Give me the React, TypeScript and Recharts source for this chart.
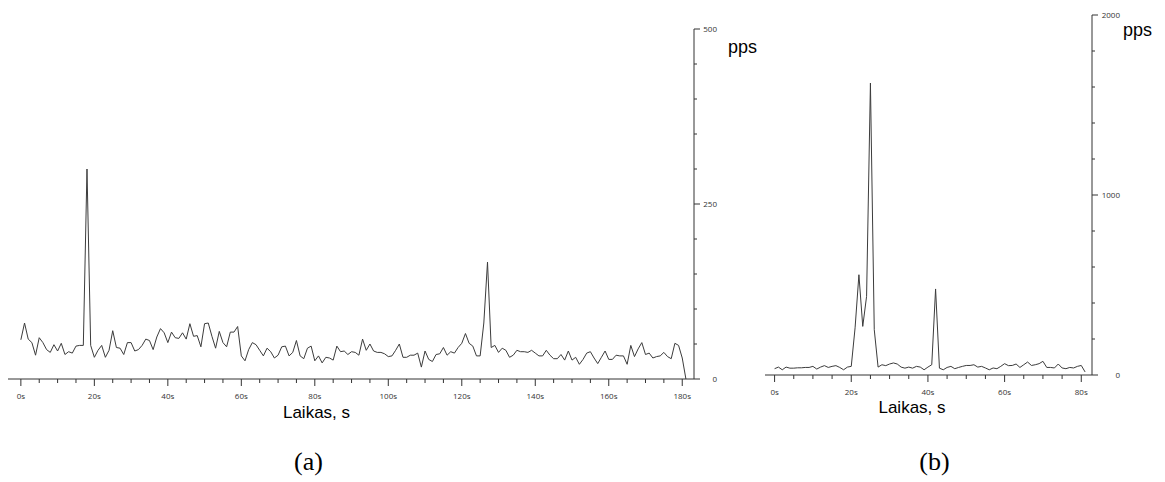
import { LineChart, Line, XAxis, YAxis } from 'recharts';

// (a) packets per second, one sample per second from 0 s
const ppsA = [
  56, 80, 57, 52, 34, 59, 52, 42, 38, 49, 40, 51, 35, 39, 37, 47, 48, 48, 300, 48,
  31, 41, 48, 31, 41, 69, 45, 44, 35, 52, 52, 40, 42, 48, 57, 55, 42, 60, 72, 66,
  52, 67, 59, 58, 66, 57, 79, 61, 62, 46, 79, 80, 61, 44, 68, 52, 46, 67, 67, 75,
  33, 26, 42, 52, 49, 41, 33, 44, 39, 30, 34, 46, 47, 33, 38, 55, 33, 29, 44, 47,
  26, 33, 23, 31, 30, 27, 47, 39, 40, 35, 39, 38, 34, 57, 41, 50, 40, 38, 38, 36,
  32, 33, 41, 50, 31, 31, 34, 34, 37, 17, 40, 28, 25, 35, 36, 45, 34, 39, 37, 45,
  51, 65, 51, 47, 33, 33, 80, 167, 45, 48, 38, 44, 41, 31, 34, 41, 39, 39, 38, 41,
  37, 33, 33, 41, 34, 29, 29, 35, 27, 40, 27, 31, 21, 28, 37, 39, 30, 22, 31, 40,
  28, 28, 34, 33, 33, 21, 48, 32, 43, 52, 35, 37, 30, 32, 33, 38, 32, 29, 51, 48,
  30, 0,
];

// (b)
const ppsB = [
  35, 44, 29, 44, 38, 38, 40, 40, 42, 42, 48, 33, 44, 52, 42, 48, 52, 42, 29, 44,
  48, 262, 557, 270, 437, 1622, 252, 44, 57, 52, 61, 67, 61, 44, 38, 44, 38, 48, 44, 29,
  44, 57, 478, 38, 29, 42, 48, 35, 42, 48, 53, 53, 57, 44, 48, 39, 29, 39, 35, 48,
  63, 52, 53, 61, 42, 57, 72, 53, 57, 63, 76, 42, 42, 39, 61, 39, 35, 42, 39, 48,
  53, 17,
];

const xTicksA = [
  0, 5, 10, 15, 20, 25, 30, 35, 40, 45, 50, 55, 60, 65, 70, 75, 80, 85, 90, 95,
  100, 105, 110, 115, 120, 125, 130, 135, 140, 145, 150, 155, 160, 165, 170, 175, 180,
];
const xTicksB = [0, 5, 10, 15, 20, 25, 30, 35, 40, 45, 50, 55, 60, 65, 70, 75, 80];
const yTicksA = [0, 50, 100, 150, 200, 250, 300, 350, 400, 450, 500];
const yTicksB = [0, 200, 400, 600, 800, 1000, 1200, 1400, 1600, 1800, 2000];

const dataA = ppsA.map((v, i) => ({ t: i, v }));
const dataB = ppsB.map((v, i) => ({ t: i, v }));

const AXIS = '#333';
const TICK_FONT = "'Open Sans', 'DejaVu Sans', sans-serif";
const LABEL_FONT = "'Liberation Sans', Arial, sans-serif";

function makeXTick(step: number) {
  return (props: any) => {
    const { x, y, payload } = props;
    const major = payload.value % step === 0;
    return (
      <g>
        <line x1={x} x2={x} y1={y} y2={y + (major ? 7 : 4)} stroke={AXIS} />
        {major && (
          <text
            x={x}
            y={y + 20}
            textAnchor="middle"
            fontSize={8}
            fill="#333"
            fontFamily={TICK_FONT}
          >
            {payload.value}s
          </text>
        )}
      </g>
    );
  };
}

function makeYTick(step: number, labelRight: number) {
  return (props: any) => {
    const { x, y, payload } = props;
    const major = payload.value % step === 0;
    return (
      <g>
        <line x1={x} x2={x + (major ? 6 : 3)} y1={y} y2={y} stroke={AXIS} />
        {major && (
          <text
            x={x + labelRight}
            y={y + 3}
            textAnchor="end"
            fontSize={8}
            fill="#333"
            fontFamily={TICK_FONT}
          >
            {payload.value}
          </text>
        )}
      </g>
    );
  };
}

export default function App() {
  return (
    <div
      style={{
        position: 'absolute',
        left: 0,
        top: 0,
        width: 1165,
        height: 482,
        background: '#fff',
        overflow: 'hidden',
      }}
    >
      <div style={{ position: 'absolute', left: 0, top: 0 }}>
        <LineChart width={760} height={420} data={dataA} margin={{ top: 29, right: 26, bottom: 11, left: 8 }}>
          <XAxis
            dataKey="t"
            type="number"
            domain={[-3.5, 183.2]}
            ticks={xTicksA}
            interval={0}
            height={30}
            tickSize={0}
            tickMargin={0}
            tick={makeXTick(20)}
            axisLine={{ stroke: AXIS }}
          />
          <YAxis
            orientation="right"
            type="number"
            domain={[0, 500]}
            ticks={yTicksA}
            interval={0}
            width={40}
            tickSize={0}
            tickMargin={0}
            tick={makeYTick(250, 23)}
            axisLine={{ stroke: AXIS }}
          />
          <Line type="linear" dataKey="v" stroke="#3c3c3c" strokeWidth={1} dot={false} isAnimationActive={false} />
        </LineChart>
      </div>
      <div style={{ position: 'absolute', left: 740, top: 0 }}>
        <LineChart width={420} height={420} data={dataB} margin={{ top: 15, right: 28, bottom: 15, left: 25 }}>
          <XAxis
            dataKey="t"
            type="number"
            domain={[-2.5, 82.8]}
            ticks={xTicksB}
            interval={0}
            height={30}
            tickSize={0}
            tickMargin={0}
            tick={makeXTick(20)}
            axisLine={{ stroke: AXIS }}
          />
          <YAxis
            orientation="right"
            type="number"
            domain={[0, 2000]}
            ticks={yTicksB}
            interval={0}
            width={40}
            tickSize={0}
            tickMargin={0}
            tick={makeYTick(1000, 28)}
            axisLine={{ stroke: AXIS }}
          />
          <Line type="linear" dataKey="v" stroke="#3c3c3c" strokeWidth={1} dot={false} isAnimationActive={false} />
        </LineChart>
      </div>
      <svg width={1165} height={482} style={{ position: 'absolute', left: 0, top: 0, pointerEvents: 'none' }}>
        <text x={728} y={52.5} fontSize={18} fontFamily={LABEL_FONT} fill="#000">pps</text>
        <text x={1123} y={36} fontSize={18} fontFamily={LABEL_FONT} fill="#000">pps</text>
        <text x={316.5} y={418} fontSize={17} fontFamily={LABEL_FONT} textAnchor="middle" fill="#000">Laikas, s</text>
        <text x={912} y={413} fontSize={17} fontFamily={LABEL_FONT} textAnchor="middle" fill="#000">Laikas, s</text>
        <text x={308.5} y={470} fontSize={26} fontFamily="'Liberation Serif', 'Times New Roman', serif" textAnchor="middle" fill="#000">(a)</text>
        <text x={934.5} y={470} fontSize={26} fontFamily="'Liberation Serif', 'Times New Roman', serif" textAnchor="middle" fill="#000">(b)</text>
      </svg>
    </div>
  );
}
